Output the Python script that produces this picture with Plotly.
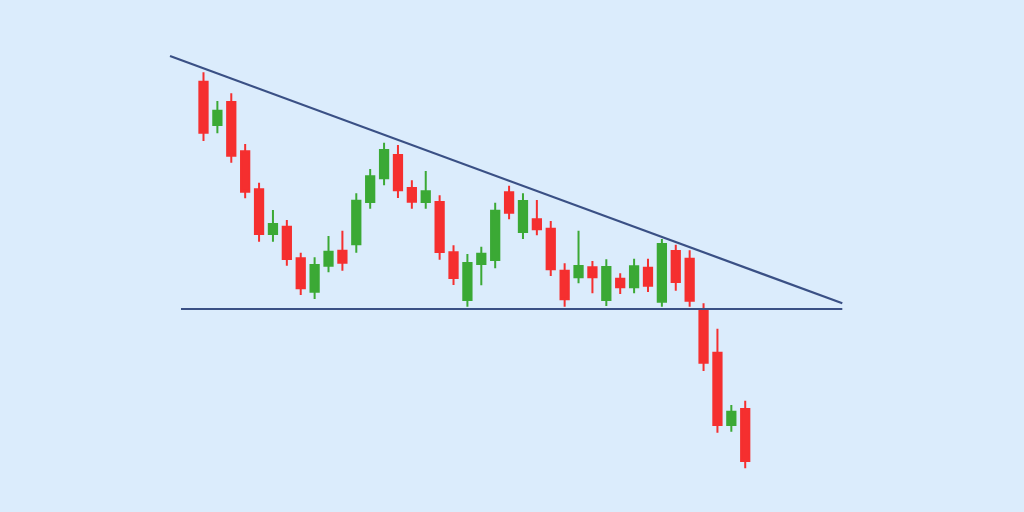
import plotly.graph_objects as go

# Candle data (price units)
opens = [430.3, 387, 410, 360.7, 322.7, 278, 285.3, 253.7, 220.3, 246.3,
         261.3, 267.7, 310, 333.7, 357, 324, 310, 310, 259.7, 212,
         248, 252, 319.7, 280, 292.7, 283.3, 241.3, 234.7, 244.7, 212,
         233.3, 224.7, 244.3, 210.3, 261, 253.3, 202.7, 159.3, 87, 103]
highs = [439.7, 411, 418.7, 368, 329.3, 302, 292, 259.3, 254.7, 276,
         281.3, 318.7, 343, 369.3, 367, 331.7, 341, 316.7, 266.7, 258,
         265.3, 309.3, 326.3, 318.7, 312, 291, 248.7, 281.3, 251, 252.7,
         238.7, 253.3, 253.3, 273, 267.3, 261.7, 208.7, 183.3, 107, 111.3]
lows = [371, 378.7, 349.3, 313.7, 270.3, 270.3, 246.3, 217, 213, 239.7,
        241.3, 259.3, 303.3, 326.7, 314, 303.3, 303.3, 252.3, 227, 205.3,
        226.7, 243.7, 292.7, 273, 276.7, 236, 205.3, 228.7, 218.7, 206,
        218, 218.7, 220, 205.3, 221.3, 205.3, 141, 79.3, 80.3, 43.7]
closes = [379.3, 401.3, 356.3, 320.3, 278, 288, 253, 223.7, 247, 260.3,
          249.3, 311.3, 335.7, 362, 321.7, 310.3, 320.7, 260, 234, 249,
          258.3, 301.3, 299.3, 311, 282.7, 242.7, 212.7, 246, 234.7, 245,
          224.7, 245.7, 226.3, 268, 230, 211.3, 149.3, 87, 100.3, 51]
periods = list(range(len(opens)))

# Trend lines (period, price)
resist_x = [-2.41, 45.99]
resist_y = [456, 208.7]
support_x = [-1.62, 45.99]
support_y = [203, 203]

BG = "#DBECFC"
RED = "#F52F2F"
GREEN = "#3BA935"
LINE = "#3A5085"

fig = go.Figure()
fig.add_trace(go.Scatter(x=resist_x, y=resist_y, mode="lines",
                         line=dict(color=LINE, width=2.2), hoverinfo="skip",
                         showlegend=False))
fig.add_trace(go.Scatter(x=support_x, y=support_y, mode="lines",
                         line=dict(color=LINE, width=2.2), hoverinfo="skip",
                         showlegend=False))
fig.add_trace(go.Candlestick(
    x=periods, open=opens, high=highs, low=lows, close=closes,
    increasing=dict(line=dict(color=GREEN, width=2), fillcolor=GREEN),
    decreasing=dict(line=dict(color=RED, width=2), fillcolor=RED),
    whiskerwidth=0, showlegend=False))

fig.update_layout(
    width=1024, height=512,
    margin=dict(l=0, r=0, t=0, b=0),
    paper_bgcolor=BG, plot_bgcolor=BG,
    boxgap=0.15,
    xaxis=dict(range=[-14.65, 59.07], visible=False, rangeslider=dict(visible=False),
               fixedrange=True),
    yaxis=dict(range=[0, 512], visible=False, fixedrange=True),
)

fig.write_html(
    "out.html",
    config={"displayModeBar": False},
    post_script="document.body.style.margin='0';document.body.style.overflow='hidden';"
                "document.body.style.background='" + BG + "';",
)
